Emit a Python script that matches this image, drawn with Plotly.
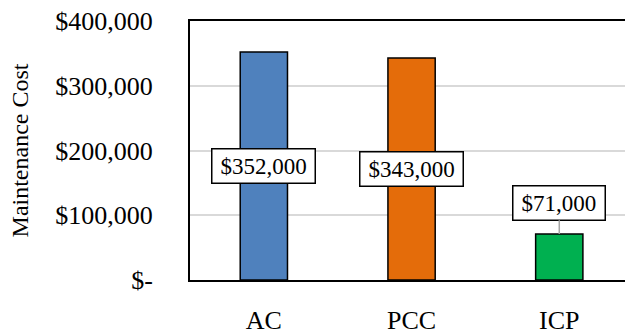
import plotly.graph_objects as go

# Maintenance cost by pavement type
categories = ["AC", "PCC", "ICP"]
costs = [352000, 343000, 71000]
bar_colors = ["#4F81BD", "#E46C0A", "#00B050"]
label_text = ["$352,000", "$343,000", "$71,000"]
# label placement per bar: "center" inside the bar, "outside" above with leader line
label_pos = ["center", "center", "outside"]

tick_vals = [0, 100000, 200000, 300000, 400000]
tick_text = ["$-", "$100,000", "$200,000", "$300,000", "$400,000"]

FONT = "Liberation Serif, Times New Roman, serif"
LABEL_FS = 23


def label_width(txt, fs=LABEL_FS):
    # serif digits and "$" are half an em wide, the comma a quarter em
    return 0.5 * fs * (len(txt) - 1) + 0.25 * fs + 10


fig = go.Figure()
fig.add_trace(go.Bar(
    x=categories,
    y=costs,
    width=0.32,
    marker=dict(color=bar_colors, line=dict(color="black", width=1.5)),
    hoverinfo="skip",
))

for cat, val, txt, pos in zip(categories, costs, label_text, label_pos):
    common = dict(
        x=cat, xref="x", yref="y", text=txt,
        font=dict(family=FONT, size=LABEL_FS, color="black"),
        width=label_width(txt), height=27, align="center", valign="middle",
        bgcolor="white", bordercolor="black", borderwidth=1.5, borderpad=3,
    )
    if pos == "center":
        fig.add_annotation(y=val / 2, showarrow=False, **common)
    else:
        fig.add_annotation(y=val, showarrow=True, ax=0, ay=-31,
                           arrowhead=0, arrowwidth=1.5, arrowcolor="#A6A6A6",
                           standoff=0, **common)

fig.update_layout(
    width=625, height=335,
    margin=dict(l=190, r=0, t=21, b=47),
    plot_bgcolor="white", paper_bgcolor="white",
    font=dict(family=FONT, size=26, color="black"),
    showlegend=False,
    bargap=0.68,
)
fig.update_xaxes(
    range=[-0.5, 2.445],
    showline=True, linecolor="black", linewidth=2, mirror=True,
    ticks="", ticklabelstandoff=16,
    tickfont=dict(family=FONT, size=26, color="black"),
    showgrid=False, fixedrange=True,
)
fig.update_yaxes(
    range=[0, 400000],
    tickvals=tick_vals, ticktext=tick_text,
    showline=True, linecolor="black", linewidth=2,
    ticks="", ticklabelstandoff=30,
    tickfont=dict(family=FONT, size=26, color="black"),
    showgrid=True, gridcolor="#D9D9D9", gridwidth=1.5,
    zeroline=False,
    title=dict(text="Maintenance Cost", font=dict(family=FONT, size=24, color="black"), standoff=20),
    fixedrange=True,
)

fig.write_html("out.html")
